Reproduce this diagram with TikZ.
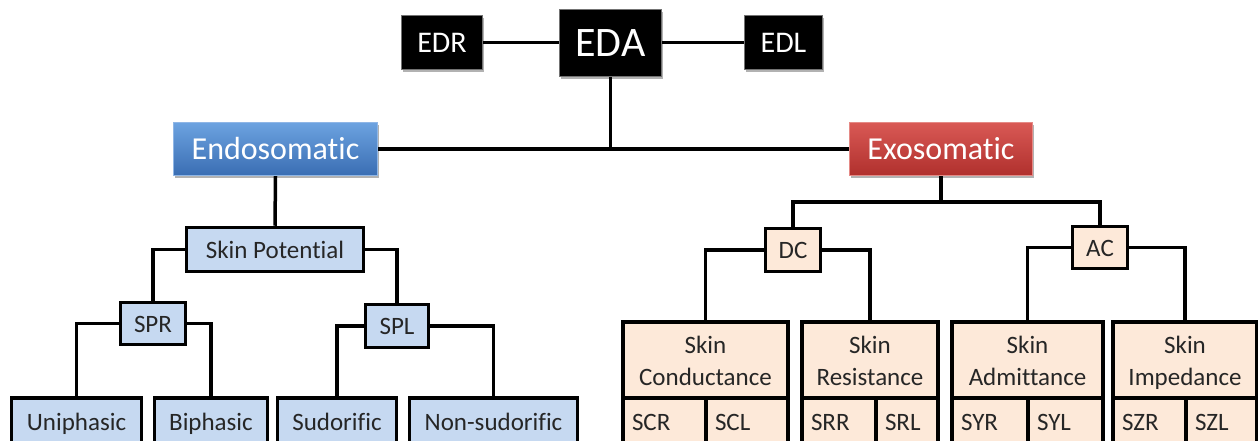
\documentclass[tikz,border=0pt]{standalone}
\usepackage{fontspec}
\setmainfont{Carlito}[Ligatures={NoCommon}]
\usetikzlibrary{shadows}
\definecolor{lblue}{HTML}{C6D9F1}
\definecolor{peach}{HTML}{FDE9D9}
\definecolor{bluetop}{HTML}{6CA3E0}
\definecolor{bluebot}{HTML}{3A6DB3}
\definecolor{blueedge}{HTML}{8FB6E6}
\definecolor{redtop}{HTML}{D95955}
\definecolor{redbot}{HTML}{B0302D}
\definecolor{rededge}{HTML}{E58A86}
\tikzset{
  conn/.style={line width=3.5pt, draw=black},
  softshadow/.style={drop shadow={shadow xshift=1.5pt, shadow yshift=-2.5pt, opacity=0.3, fill=black}},
  blackbox/.style={rectangle, fill=black, draw=black!55, line width=1.2pt, text=white, inner sep=0pt, softshadow},
  bluebox/.style={rectangle, top color=bluetop, bottom color=bluebot, draw=blueedge, line width=1.2pt, text=white, inner sep=0pt, softshadow, font=\fontsize{32}{38}\selectfont},
  redbox/.style={rectangle, top color=redtop, bottom color=redbot, draw=rededge, line width=1.2pt, text=white, inner sep=0pt, softshadow, font=\fontsize{32}{38}\selectfont},
  smallfont/.style={font=\fontsize{25}{32}\selectfont},
  lbox/.style={rectangle, draw=black, line width=3.5pt, fill=lblue, inner sep=0pt, smallfont, text=black!85, text height=21pt, text depth=4pt},
  pbox/.style={rectangle, draw=black, line width=3.5pt, fill=peach, inner sep=0pt, smallfont, text=black!85, align=center},
  pone/.style={pbox, text height=21pt, text depth=4pt},
  pcell/.style={rectangle, draw=black, line width=3.5pt, fill=peach, inner xsep=9pt, inner ysep=0pt, minimum height=48pt, smallfont, text=black!85, align=left, text height=21pt, text depth=4pt}
}
\newcommand{\tallstrut}{\rule{0pt}{28pt}}
\begin{document}
\begin{tikzpicture}[x=1pt,y=-1pt]
\clip (0,0) rectangle (1258,441);
\useasboundingbox (0,0) rectangle (1258,441);
\fill[white] (0,0) rectangle (1258,441);

% top level
\node[blackbox, minimum width=81pt, minimum height=54pt, font=\fontsize{30}{36}\selectfont] (EDR) at (442,42.5) {EDR};
\node[blackbox, minimum width=102pt, minimum height=67pt, font=\fontsize{42}{48}\selectfont] (EDA) at (610.5,43) {EDA};
\node[blackbox, minimum width=78pt, minimum height=54pt, font=\fontsize{30}{36}\selectfont] (EDL) at (783.5,42.5) {EDL};

\node[bluebox, minimum width=204pt, minimum height=53pt] (Endo) at (275.5,149) {Endosomatic};
\node[redbox, minimum width=183pt, minimum height=53pt] (Exo) at (941,149) {Exosomatic};

% endosomatic branch
\node[lbox, minimum width=177pt, minimum height=44pt] (SP) at (275,249.5) {Skin Potential};
\node[lbox, minimum width=65pt, minimum height=42pt] (SPR) at (153,323.5) {SPR};
\node[lbox, minimum width=63pt, minimum height=43pt] (SPL) at (397,326) {SPL};
\node[lbox, minimum width=130pt, minimum height=48pt] (Uni) at (76.5,422) {Uniphasic};
\node[lbox, minimum width=113pt, minimum height=48pt] (Bi) at (211,422) {Biphasic};
\node[lbox, minimum width=119pt, minimum height=48pt] (Sud) at (337,422) {Sudorific};
\node[lbox, minimum width=168pt, minimum height=48pt] (Non) at (493.5,422) {Non-sudorific};

% exosomatic branch
\node[pone, minimum width=55pt, minimum height=43pt] (DC) at (793,250) {DC};
\node[pone, minimum width=55pt, minimum height=42pt] (AC) at (1100,247.5) {AC};

\node[pbox, minimum width=165pt, minimum height=76pt] (SC) at (705.5,360) {\tallstrut Skin\strut\\Conductance\strut};
\node[pcell, text width=65pt] (SCR) at (664.5,422) {SCR};
\node[pcell, text width=64pt] (SCL) at (747,422) {SCL};

\node[pbox, minimum width=136pt, minimum height=76pt] (SR) at (870,360) {\tallstrut Skin\strut\\Resistance\strut};
\node[pcell, text width=56pt] (SRR) at (839,422) {SRR};
\node[pcell, text width=44pt] (SRL) at (907,422) {SRL};

\node[pbox, minimum width=151pt, minimum height=76pt] (SA) at (1027.5,360) {\tallstrut Skin\strut\\Admittance\strut};
\node[pcell, text width=58pt] (SYR) at (990,422) {SYR};
\node[pcell, text width=57pt] (SYL) at (1065.5,422) {SYL};

\node[pbox, minimum width=144pt, minimum height=76pt] (SZ) at (1185,360) {\tallstrut Skin\strut\\Impedance\strut};
\node[pcell, text width=55pt] (SZR) at (1149.5,422) {SZR};
\node[pcell, text width=53pt] (SZL) at (1221.5,422) {SZL};

% connectors
\draw[conn] (EDR.east) -- (EDR.east -| EDA.west);
\draw[conn] (EDL.west -| EDA.east) -- (EDL.west);
\draw[conn] (EDA.south) -- (EDA.south |- Endo.east);
\draw[conn] (Endo.east) -- (Exo.west);

\draw[conn] (Endo.south) -- (SP.north);
\draw[conn] (SP.west) -| (SPR.north);
\draw[conn] (SP.east) -| (SPL.north);
\draw[conn] (SPR.west) -| (Uni.north);
\draw[conn] (SPR.east) -| (Bi.north);
\draw[conn] (SPL.west) -| (Sud.north);
\draw[conn] (SPL.east) -| (Non.north);

\coordinate (exoj) at (941,202);
\draw[conn] (Exo.south) -- (exoj);
\draw[conn] (exoj) -| (DC.north);
\draw[conn] (exoj) -| (AC.north);
\draw[conn] (DC.west) -| (SC.north);
\draw[conn] (DC.east) -| (SR.north);
\draw[conn] (AC.west) -| (SA.north);
\draw[conn] (AC.east) -| (SZ.north);
\end{tikzpicture}
\end{document}
